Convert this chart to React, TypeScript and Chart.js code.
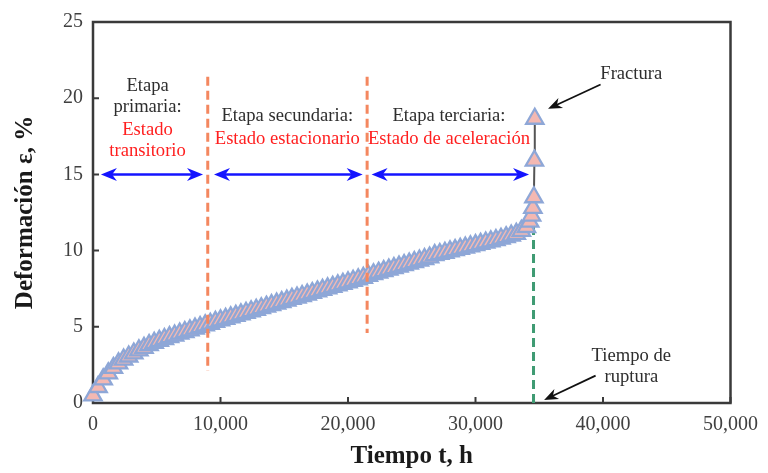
import React, { useEffect, useRef } from 'react';
import { Chart, registerables } from 'chart.js';
Chart.register(...registerables);

// ---- data ----
const TIME_H = [
  0, 400, 800, 1200, 1600, 2000, 2400, 2800, 3200, 3600,
  4000, 4400, 4800, 5200, 5600, 6000, 6400, 6800, 7200, 7600,
  8000, 8400, 8800, 9200, 9600, 10000, 10400, 10800, 11200, 11600,
  12000, 12400, 12800, 13200, 13600, 14000, 14400, 14800, 15200, 15600,
  16000, 16400, 16800, 17200, 17600, 18000, 18400, 18800, 19200, 19600,
  20000, 20400, 20800, 21200, 21600, 22000, 22400, 22800, 23200, 23600,
  24000, 24400, 24800, 25200, 25600, 26000, 26400, 26800, 27200, 27600,
  28000, 28400, 28800, 29200, 29600, 30000, 30400, 30800, 31200, 31600,
  32000, 32400, 32800, 33200, 33600, 34000, 34250, 34400, 34500, 34580,
  34620, 34650,
];
const STRAIN_PCT = [
  0.5, 1.05, 1.55, 1.95, 2.3, 2.6, 2.85, 3.05, 3.25, 3.45,
  3.62, 3.8, 3.95, 4.08, 4.2, 4.32, 4.43, 4.55, 4.66, 4.77,
  4.88, 4.98, 5.1, 5.2, 5.32, 5.42, 5.52, 5.62, 5.72, 5.82,
  5.92, 6.02, 6.12, 6.22, 6.32, 6.42, 6.52, 6.62, 6.72, 6.83,
  6.92, 7.02, 7.12, 7.22, 7.32, 7.42, 7.52, 7.62, 7.72, 7.82,
  7.92, 8.02, 8.12, 8.22, 8.35, 8.45, 8.55, 8.65, 8.75, 8.85,
  8.95, 9.05, 9.15, 9.25, 9.35, 9.45, 9.55, 9.7, 9.78, 9.86,
  9.95, 10.03, 10.11, 10.2, 10.28, 10.36, 10.44, 10.53, 10.61, 10.69,
  10.78, 10.88, 10.98, 11.1, 11.3, 11.55, 11.9, 12.3, 12.8, 13.5,
  15.9, 18.65,
];
const X_TICKS = [0, 10000, 20000, 30000, 40000, 50000];
const Y_TICKS = [0, 5, 10, 15, 20, 25];

// stage boundaries (data units)
const STAGE_X = [9000, 21500];
const STAGE_Y_FROM = [2.1, 4.6];
const STAGE_Y_TO = [21.4, 21.4];
const RUPTURE_X = 34550;
const RUPTURE_Y = [0, 11.8];
const ARROW_LEVEL = 15;
const ARROW_STARTS = [620, 9490, 21850];
const ARROW_ENDS = [8630, 21150, 34200];

// text labels
const LABEL_TEXTS = [
  'Etapa', 'primaria:', 'Estado', 'transitorio',
  'Etapa secundaria:', 'Estado estacionario',
  'Etapa terciaria:', 'Estado de aceleración',
  'Fractura', 'Tiempo de', 'ruptura',
];
const LABEL_X = [4280, 4280, 4280, 4280, 15240, 15240, 27920, 27920, 42220, 42220, 42220];
const LABEL_Y = [20.8, 19.4, 17.9, 16.5, 18.8, 17.3, 18.8, 17.3, 21.6, 3.1, 1.7];
const LABEL_RED = [false, false, true, true, false, true, false, true, false, false, false];

// pointer arrows
const POINTER_FROM_X = [39810, 39420];
const POINTER_FROM_Y = [20.9, 1.8];
const POINTER_TO_X = [35690, 35380];
const POINTER_TO_Y = [19.3, 0.2];

const FONT = '"Liberation Serif", "Times New Roman", serif';

function barbHead(ctx: CanvasRenderingContext2D, x1: number, y1: number, x2: number, y2: number, len: number, w: number) {
  const a = Math.atan2(y2 - y1, x2 - x1);
  const c = Math.cos(a), s = Math.sin(a);
  const bx = x2 - len * c, by = y2 - len * s;
  const nx = x2 - len * 0.7 * c, ny = y2 - len * 0.7 * s;
  ctx.beginPath();
  ctx.moveTo(x2, y2);
  ctx.lineTo(bx - (w / 2) * s, by + (w / 2) * c);
  ctx.lineTo(nx, ny);
  ctx.lineTo(bx + (w / 2) * s, by - (w / 2) * c);
  ctx.closePath();
  ctx.fill();
}

const annotPlugin = {
  id: 'annot',
  beforeDatasetsDraw(chart: any) {
    const { ctx, chartArea: a, scales } = chart;
    const x = scales.x, y = scales.y;
    ctx.save();
    ctx.strokeStyle = '#3a3a3a';
    ctx.lineWidth = 2.5;
    ctx.setLineDash([]);
    ctx.strokeRect(a.left, a.top, a.right - a.left, a.bottom - a.top);
    ctx.lineWidth = 2;
    ctx.beginPath();
    for (const v of Y_TICKS) {
      const py = y.getPixelForValue(v);
      ctx.moveTo(a.left, py);
      ctx.lineTo(a.left + 6, py);
    }
    for (const v of X_TICKS) {
      const px = x.getPixelForValue(v);
      ctx.moveTo(px, a.bottom);
      ctx.lineTo(px, a.bottom - 6);
    }
    ctx.stroke();
    ctx.strokeStyle = '#3f9b73';
    ctx.lineWidth = 3;
    ctx.setLineDash([9, 5]);
    const rx = x.getPixelForValue(RUPTURE_X);
    ctx.beginPath();
    ctx.moveTo(rx, y.getPixelForValue(RUPTURE_Y[0]));
    ctx.lineTo(rx, y.getPixelForValue(RUPTURE_Y[1]));
    ctx.stroke();
    ctx.restore();
  },
  afterDatasetsDraw(chart: any) {
    const { ctx, scales } = chart;
    const x = scales.x, y = scales.y;
    ctx.save();
    ctx.strokeStyle = '#f4875f';
    ctx.lineWidth = 3;
    ctx.setLineDash([9, 5]);
    STAGE_X.forEach((sx, i) => {
      const px = x.getPixelForValue(sx);
      ctx.beginPath();
      ctx.moveTo(px, y.getPixelForValue(STAGE_Y_TO[i]));
      ctx.lineTo(px, y.getPixelForValue(STAGE_Y_FROM[i]));
      ctx.stroke();
    });
    ctx.setLineDash([]);
    ctx.strokeStyle = '#1414ff';
    ctx.fillStyle = '#1414ff';
    ctx.lineWidth = 2.5;
    const py = y.getPixelForValue(ARROW_LEVEL);
    ARROW_STARTS.forEach((s, i) => {
      const p1 = x.getPixelForValue(s), p2 = x.getPixelForValue(ARROW_ENDS[i]);
      ctx.beginPath();
      ctx.moveTo(p1 + 8, py);
      ctx.lineTo(p2 - 8, py);
      ctx.stroke();
      barbHead(ctx, p2, py, p1, py, 16, 13);
      barbHead(ctx, p1, py, p2, py, 16, 13);
    });
    ctx.strokeStyle = '#111';
    ctx.fillStyle = '#111';
    ctx.lineWidth = 1.8;
    POINTER_FROM_X.forEach((fx, i) => {
      const x1 = x.getPixelForValue(fx), y1 = y.getPixelForValue(POINTER_FROM_Y[i]);
      const x2 = x.getPixelForValue(POINTER_TO_X[i]), y2 = y.getPixelForValue(POINTER_TO_Y[i]);
      const a = Math.atan2(y2 - y1, x2 - x1);
      ctx.beginPath();
      ctx.moveTo(x1, y1);
      ctx.lineTo(x2 - 8 * Math.cos(a), y2 - 8 * Math.sin(a));
      ctx.stroke();
      barbHead(ctx, x1, y1, x2, y2, 14, 11);
    });
    ctx.font = `18.6px ${FONT}`;
    ctx.textAlign = 'center';
    ctx.textBaseline = 'middle';
    LABEL_TEXTS.forEach((t, i) => {
      ctx.fillStyle = LABEL_RED[i] ? '#ff1f1f' : '#2e2e2e';
      ctx.fillText(t, x.getPixelForValue(LABEL_X[i]), y.getPixelForValue(LABEL_Y[i]));
    });
    ctx.restore();
  },
};

export default function App() {
  const ref = useRef<HTMLCanvasElement | null>(null);
  useEffect(() => {
    if (!ref.current) return;
    const chart = new Chart(ref.current, {
      type: 'scatter',
      data: {
        datasets: [
          {
            data: TIME_H.map((t, i) => ({ x: t, y: STRAIN_PCT[i] })),
            showLine: true,
            borderColor: '#555555',
            borderWidth: 2,
            pointStyle: 'triangle',
            pointRadius: 10,
            pointBackgroundColor: '#f3b8b2',
            pointBorderColor: '#8ea7d7',
            pointBorderWidth: 2.3,
            clip: false as any,
          },
        ],
      },
      options: {
        animation: false,
        responsive: false,
        devicePixelRatio: 1,
        layout: { padding: { top: 17, right: 32, left: 0, bottom: 0 } },
        plugins: { legend: { display: false }, tooltip: { enabled: false } },
        scales: {
          x: {
            type: 'linear',
            min: 0,
            max: 50000,
            afterFit: (s: any) => { s.height = 70; },
            afterBuildTicks: (s: any) => { s.ticks = X_TICKS.map((v) => ({ value: v })); },
            grid: { display: false, drawTicks: false },
            border: { display: false },
            ticks: {
              padding: 10,
              color: '#404040',
              font: { family: FONT, size: 20 },
              callback: (v: any) => Number(v).toLocaleString('en-US'),
            },
            title: {
              display: true,
              text: 'Tiempo t, h',
              color: '#1a1a1a',
              font: { family: FONT, size: 25, weight: 'bold' },
              padding: { top: 0, bottom: 1 },
            },
          },
          y: {
            type: 'linear',
            min: 0,
            max: 25,
            afterFit: (s: any) => { s.width = 93; },
            afterBuildTicks: (s: any) => { s.ticks = Y_TICKS.map((v) => ({ value: v })); },
            grid: { display: false, drawTicks: false },
            border: { display: false },
            ticks: {
              padding: 10,
              color: '#404040',
              font: { family: FONT, size: 20 },
            },
            title: {
              display: true,
              text: 'Deformación ε, %',
              color: '#1a1a1a',
              font: { family: FONT, size: 25, weight: 'bold' },
              padding: { top: 11, bottom: 0 },
            },
          },
        },
      },
      plugins: [annotPlugin],
    });
    return () => chart.destroy();
  }, []);
  return (
    <div style={{ position: 'fixed', left: 0, top: 0, width: 768, height: 473, background: '#fff' }}>
      <canvas ref={ref} width={768} height={473} style={{ width: 768, height: 473 }} />
    </div>
  );
}
